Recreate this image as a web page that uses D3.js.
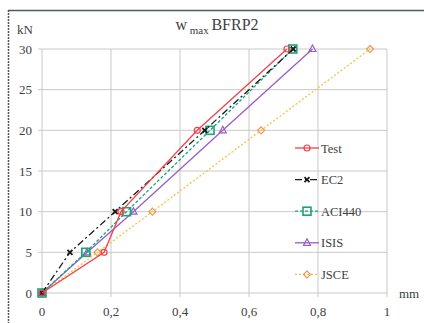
<!DOCTYPE html>
<html>
<head>
<meta charset="utf-8">
<script src="https://cdn.jsdelivr.net/npm/d3@7"></script>
<style>
  body { margin: 0; background: #fff; }
  svg text { font-family: 'Liberation Serif', 'Times New Roman', serif; fill: #404040; }
</style>
</head>
<body>
<svg id="chart"></svg>
<script>
var width = 424;
var height = 323;

// data
var loads = [0, 5, 10, 20, 30];
var testW = [0, 0.18, 0.229, 0.45, 0.71];
var ec2W = [0, 0.081, 0.212, 0.472, 0.728];
var aciW = [0, 0.127, 0.245, 0.487, 0.727];
var isisW = [0, 0.131, 0.265, 0.524, 0.784];
var jsceW = [0, 0.161, 0.32, 0.635, 0.951];

var xTicks = [0, 0.2, 0.4, 0.6, 0.8, 1];
var yTicks = [0, 5, 10, 15, 20, 25, 30];

var series = [
    {name: "Test", w: testW, color: "#f0424a", dash: null, marker: "circle"},
    {name: "EC2", w: ec2W, color: "#1a1a1a", dash: "7,3,2,3", marker: "cross"},
    {name: "ACI440", w: aciW, color: "#17a57a", dash: "3,2", marker: "square"},
    {name: "ISIS", w: isisW, color: "#9a5cc6", dash: null, marker: "triangle"},
    {name: "JSCE", w: jsceW, color: "#f5c242", dash: "2,2", marker: "diamond", mcolor: "#f3964a"}
];

var margin = {top: 49, left: 42, right: 37, bottom: 30};

var svg = d3.select("#chart")
    .attr("width", width)
    .attr("height", height);

// outer frame
svg.append("line")
    .attr("x1", 8).attr("x2", width)
    .attr("y1", 10.5).attr("y2", 10.5)
    .attr("stroke", "#4f5e55").attr("stroke-width", 1.5);
svg.append("line")
    .attr("x1", 8.5).attr("x2", 8.5)
    .attr("y1", 10).attr("y2", height)
    .attr("stroke", "#555").attr("stroke-width", 1.5)
    .attr("stroke-dasharray", "2,1");

var xScale = d3.scaleLinear()
    .domain([0, 1])
    .range([margin.left, width - margin.right]);

var yScale = d3.scaleLinear()
    .domain([0, 30])
    .range([height - margin.bottom, margin.top]);

// grid
svg.append("g")
    .selectAll("line")
    .data(yTicks)
    .enter().append("line")
    .attr("x1", xScale(0) - 4)
    .attr("x2", xScale(1))
    .attr("y1", function(d) { return yScale(d); })
    .attr("y2", function(d) { return yScale(d); })
    .attr("stroke", "#c9c9c9");

svg.append("g")
    .selectAll("line")
    .data(xTicks)
    .enter().append("line")
    .attr("x1", function(d) { return xScale(d); })
    .attr("x2", function(d) { return xScale(d); })
    .attr("y1", yScale(30))
    .attr("y2", yScale(0) + 4)
    .attr("stroke", "#c9c9c9");

// tick labels
svg.append("g")
    .selectAll("text")
    .data(yTicks)
    .enter().append("text")
    .attr("x", 32)
    .attr("y", function(d) { return yScale(d) + 4.5; })
    .attr("text-anchor", "end")
    .style("font-size", "13px")
    .text(function(d) { return d; });

svg.append("g")
    .selectAll("text")
    .data(xTicks)
    .enter().append("text")
    .attr("x", function(d) { return xScale(d); })
    .attr("y", yScale(0) + 23)
    .attr("text-anchor", "middle")
    .style("font-size", "13px")
    .text(function(d) { return String(d).replace(".", ","); });

svg.append("text")
    .attr("x", 17).attr("y", 34)
    .style("font-size", "13px")
    .text("kN");

svg.append("text")
    .attr("x", 399).attr("y", 298)
    .style("font-size", "13px")
    .text("mm");

// title
var title = svg.append("text")
    .attr("x", 217).attr("y", 30)
    .attr("text-anchor", "middle")
    .style("font-size", "16px");
title.append("tspan").text("w");
title.append("tspan").attr("dy", 4).style("font-size", "11px").text(" max ");
title.append("tspan").attr("dy", -4).text("BFRP2");

function drawMarker(g, type, color, x, y) {
    if (type == "circle") {
        g.append("circle").attr("cx", x).attr("cy", y).attr("r", 3)
            .attr("fill", "none").attr("stroke", color).attr("stroke-width", 1.2);
    } else if (type == "square") {
        g.append("rect").attr("x", x - 4).attr("y", y - 4)
            .attr("width", 8).attr("height", 8)
            .attr("fill", "none").attr("stroke", color).attr("stroke-width", 1.6);
    } else if (type == "triangle") {
        g.append("path")
            .attr("d", "M" + x + "," + (y - 4) + "L" + (x + 3.5) + "," + (y + 2.5) + "L" + (x - 3.5) + "," + (y + 2.5) + "Z")
            .attr("fill", "none").attr("stroke", color).attr("stroke-width", 1.2);
    } else if (type == "diamond") {
        g.append("path")
            .attr("d", "M" + x + "," + (y - 3.5) + "L" + (x + 3.5) + "," + y + "L" + x + "," + (y + 3.5) + "L" + (x - 3.5) + "," + y + "Z")
            .attr("fill", "none").attr("stroke", color).attr("stroke-width", 1.2);
    } else {
        g.append("path")
            .attr("d", "M" + (x - 2.5) + "," + (y - 2.5) + "L" + (x + 2.5) + "," + (y + 2.5) + "M" + (x + 2.5) + "," + (y - 2.5) + "L" + (x - 2.5) + "," + (y + 2.5))
            .attr("stroke", color).attr("stroke-width", 1.8);
    }
}

var line = d3.line()
    .x(function(d) { return xScale(d[0]); })
    .y(function(d) { return yScale(d[1]); });

// draw back to front so Test sits on top
series.slice().reverse().forEach(function(s) {
    var pts = s.w.map(function(w, i) { return [w, loads[i]]; });
    var g = svg.append("g");
    g.append("path")
        .attr("d", line(pts))
        .attr("fill", "none")
        .attr("stroke", s.color)
        .attr("stroke-width", 1.3)
        .attr("stroke-dasharray", s.dash);
    pts.forEach(function(p) {
        drawMarker(g, s.marker, s.mcolor || s.color, xScale(p[0]), yScale(p[1]));
    });
});

// legend
var legend = svg.append("g");
series.forEach(function(s, i) {
    var y = 148 + i * 31.6;
    legend.append("line")
        .attr("x1", 295).attr("x2", 319)
        .attr("y1", y).attr("y2", y)
        .attr("stroke", s.color)
        .attr("stroke-width", 1.3)
        .attr("stroke-dasharray", s.dash);
    drawMarker(legend, s.marker, s.mcolor || s.color, 307, y);
    legend.append("text")
        .attr("x", 321).attr("y", y + 4.5)
        .style("font-size", "12.5px")
        .text(s.name);
});
</script>
</body>
</html>
